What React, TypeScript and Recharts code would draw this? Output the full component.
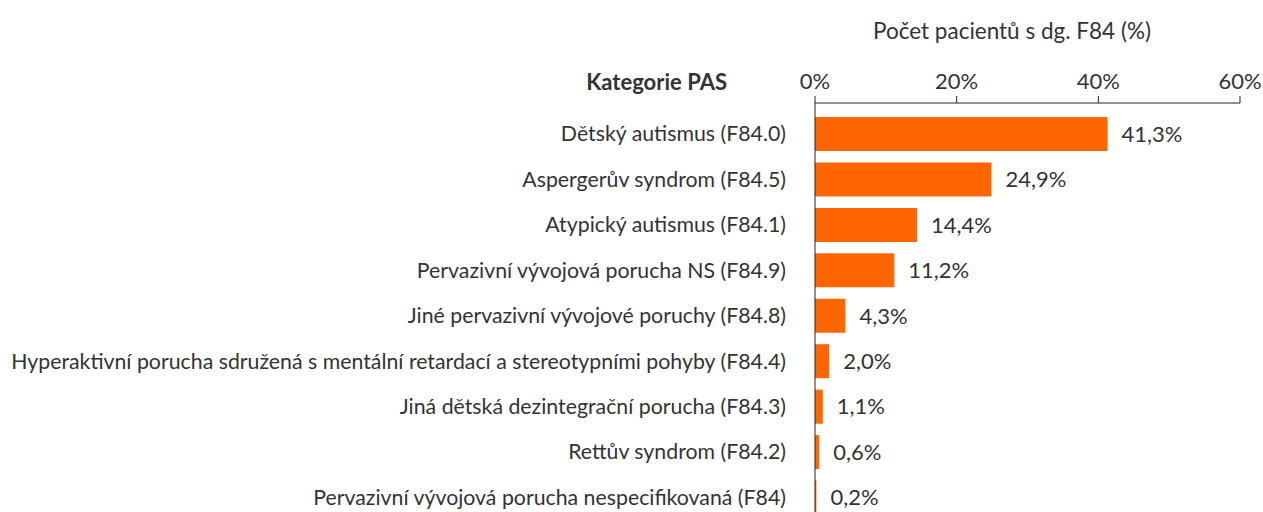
import { BarChart, Bar, XAxis, YAxis, LabelList } from "recharts";

const categories = [
  "Dětský autismus (F84.0)",
  "Aspergerův syndrom (F84.5)",
  "Atypický autismus (F84.1)",
  "Pervazivní vývojová porucha NS (F84.9)",
  "Jiné pervazivní vývojové poruchy (F84.8)",
  "Hyperaktivní porucha sdružená s mentální retardací a stereotypními pohyby (F84.4)",
  "Jiná dětská dezintegrační porucha (F84.3)",
  "Rettův syndrom (F84.2)",
  "Pervazivní vývojová porucha nespecifikovaná (F84)",
];

const percents = [41.3, 24.9, 14.4, 11.2, 4.3, 2.0, 1.1, 0.6, 0.2];

const xTicks = [0, 20, 40, 60];

const data = categories.map((name, i) => ({ name, value: percents[i] }));

const FONT = "Lato, 'Open Sans', sans-serif";
const TEXT = "#333333";

const fmtValue = (v: number) => v.toFixed(1).replace(".", ",") + "%";

export default function App() {
  return (
    <div style={{ position: "absolute", left: 0, top: 0, width: 1263, height: 512, overflow: "hidden", background: "#fff", fontFamily: FONT }}>
      <div style={{ position: "absolute", left: 873, top: 17, fontSize: 22.5, color: TEXT, whiteSpace: "nowrap" }}>
        Počet pacientů s dg. F84 (%)
      </div>
      <div style={{ position: "absolute", right: 1263 - 727, top: 68, fontSize: 22, fontWeight: 700, color: TEXT, whiteSpace: "nowrap" }}>
        Kategorie PAS
      </div>
      <BarChart
        width={1263}
        height={530}
        data={data}
        layout="vertical"
        margin={{ top: 73, right: 23, bottom: 10, left: 0 }}
        barCategoryGap={6}
        style={{ fontFamily: FONT }}
      >
        <XAxis
          type="number"
          orientation="top"
          domain={[0, 60]}
          ticks={xTicks}
          tickFormatter={(v: number) => `${v}%`}
          axisLine={{ stroke: "#222" }}
          tickLine={{ stroke: "#222" }}
          tickSize={7}
          tickMargin={7}
          height={30}
          tick={{ fill: TEXT, fontSize: 22 }}
        />
        <YAxis
          type="category"
          dataKey="name"
          width={815}
          padding={{ top: 8, bottom: 0 }}
          axisLine={{ stroke: "#222" }}
          tickLine={false}
          tickSize={0}
          tickMargin={29}
          interval={0}
          tick={{ fill: TEXT, fontSize: 21.3 }}
        />
        <Bar dataKey="value" fill="#ff6600" barSize={34} isAnimationActive={false}>
          <LabelList
            dataKey="value"
            position="right"
            offset={14}
            formatter={(v: number) => fmtValue(v)}
            style={{ fill: TEXT, fontSize: 22, fontFamily: FONT }}
          />
        </Bar>
      </BarChart>
    </div>
  );
}
